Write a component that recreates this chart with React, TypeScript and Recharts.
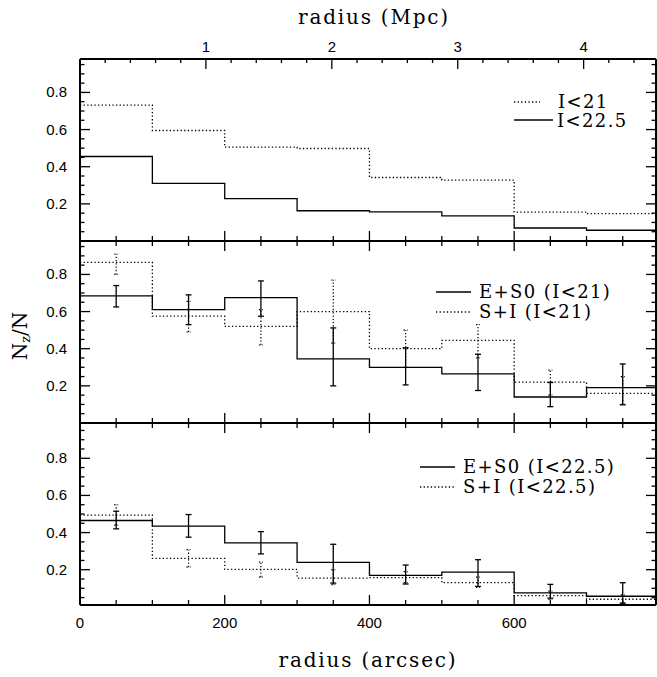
import React from 'react';
import { ComposedChart, Line, Scatter, ErrorBar, XAxis, YAxis } from 'recharts';

// ---------- data ----------
const binEdges = [0, 100, 200, 300, 400, 500, 600, 700, 800];
const binCenters = [50, 150, 250, 350, 450, 550, 650, 750];
const xMaxArcsec = 796;
const arcsecPerMpc = 174;

// top panel: N_z/N vs radius, all types
const topI21 = [0.732, 0.595, 0.505, 0.498, 0.342, 0.328, 0.156, 0.147];
const topI225 = [0.455, 0.31, 0.228, 0.163, 0.157, 0.135, 0.07, 0.058];

// middle panel: I<21
const midE = [0.685, 0.61, 0.675, 0.345, 0.3, 0.265, 0.14, 0.19];
const midELo = [0.625, 0.53, 0.575, 0.2, 0.205, 0.175, 0.088, 0.098];
const midEHi = [0.74, 0.69, 0.765, 0.512, 0.405, 0.37, 0.218, 0.318];
const midS = [0.865, 0.575, 0.52, 0.6, 0.4, 0.445, 0.22, 0.16];
const midSLo = [0.8, 0.49, 0.42, 0.43, 0.3, 0.35, 0.15, 0.1];
const midSHi = [0.91, 0.655, 0.61, 0.77, 0.5, 0.53, 0.285, 0.25];

// bottom panel: I<22.5
const botE = [0.465, 0.435, 0.345, 0.24, 0.17, 0.187, 0.075, 0.057];
const botELo = [0.42, 0.375, 0.285, 0.128, 0.123, 0.11, 0.047, 0.02];
const botEHi = [0.515, 0.497, 0.405, 0.337, 0.225, 0.254, 0.121, 0.13];
const botS = [0.494, 0.261, 0.202, 0.155, 0.157, 0.13, 0.061, 0.041];
const botSLo = [0.44, 0.214, 0.16, 0.12, 0.13, 0.105, 0.04, 0.02];
const botSHi = [0.55, 0.308, 0.241, 0.2, 0.19, 0.16, 0.085, 0.065];

// ticks
const arcsecTicks = [0, 50, 100, 150, 200, 250, 300, 350, 400, 450, 500, 550, 600, 650, 700, 750];
const arcsecLabels = [0, 200, 400, 600];
const mpcTicks = [0.2, 0.4, 0.6, 0.8, 1, 1.2, 1.4, 1.6, 1.8, 2, 2.2, 2.4, 2.6, 2.8, 3, 3.2, 3.4, 3.6, 3.8, 4, 4.2, 4.4];
const yTicks = [0.05, 0.1, 0.15, 0.2, 0.25, 0.3, 0.35, 0.4, 0.45, 0.5, 0.55, 0.6, 0.65, 0.7, 0.75, 0.8, 0.85, 0.9, 0.95];
const yLabels = [0.2, 0.4, 0.6, 0.8];

// ---------- helpers ----------
const W = 657;
const H = 677;
const SANS = 'Liberation Sans, Arial, Helvetica, sans-serif';
const SERIF = 'DejaVu Serif, serif';
const INK = '#000';
const DOT = '1.3 2.3';
const TICK_FONT = 15;

const steps = (vals: number[]) =>
  binEdges.map((x, i) => ({ x, y: vals[Math.min(i, vals.length - 1)] }));
const errs = (vals: number[], lo: number[], hi: number[]) =>
  binCenters.map((x, i) => ({ x, y: vals[i], err: [vals[i] - lo[i], hi[i] - vals[i]] }));
const mpcTicksInArcsec = mpcTicks.map((m) => m * arcsecPerMpc);

type LineSpec = { vals: number[]; dotted: boolean; lo?: number[]; hi?: number[] };

function Panel(props: {
  top: number;
  bottom: number;
  domain: [number, number];
  series: LineSpec[];
  mpcTop: boolean;
  bottomLabels: boolean;
}) {
  const { top, bottom, domain, series, mpcTop, bottomLabels } = props;

  const BottomTick = (p: any) => {
    const v = p.payload.value;
    const major = arcsecLabels.includes(v);
    return (
      <g>
        {v !== 0 && (
          <line x1={p.x} x2={p.x} y1={p.y} y2={p.y - (major ? 10 : 5)} stroke={INK} strokeWidth={1.3} />
        )}
        {bottomLabels && major && (
          <text x={p.x} y={p.y + 23} textAnchor="middle" fontFamily={SANS} fontSize={TICK_FONT} fill={INK}>
            {v}
          </text>
        )}
      </g>
    );
  };
  const TopTick = (p: any) => {
    const v = p.payload.value;
    const major = arcsecLabels.includes(v);
    if (v === 0) return <g />;
    return <line x1={p.x} x2={p.x} y1={p.y} y2={p.y + (major ? 10 : 5)} stroke={INK} strokeWidth={1.3} />;
  };
  const MpcTick = (p: any) => {
    const mpc = p.payload.value / arcsecPerMpc;
    const r = Math.round(mpc);
    const major = Math.abs(mpc - r) < 1e-6;
    return (
      <g>
        <line x1={p.x} x2={p.x} y1={p.y} y2={p.y + (major ? 10 : 4)} stroke={INK} strokeWidth={1.3} />
        {major && (
          <text x={p.x} y={p.y - 7} textAnchor="middle" fontFamily={SANS} fontSize={TICK_FONT} fill={INK}>
            {r}
          </text>
        )}
      </g>
    );
  };
  const LeftTick = (p: any) => {
    const v = p.payload.value;
    const major = yLabels.includes(v);
    return (
      <g>
        <line x1={p.x} x2={p.x + (major ? 10 : 4.5)} y1={p.y} y2={p.y} stroke={INK} strokeWidth={1.3} />
        {major && (
          <text x={p.x - 13} y={p.y + 5} textAnchor="end" fontFamily={SANS} fontSize={TICK_FONT} fill={INK}>
            {String(v)}
          </text>
        )}
      </g>
    );
  };
  const RightTick = (p: any) => {
    const v = p.payload.value;
    const major = yLabels.includes(v);
    return <line x1={p.x} x2={p.x - (major ? 10 : 4.5)} y1={p.y} y2={p.y} stroke={INK} strokeWidth={1.3} />;
  };

  const axisLine = { stroke: INK, strokeWidth: 2 };
  const common = {
    interval: 0 as const,
    tickSize: 0,
    tickMargin: 0,
    tickLine: false,
    axisLine,
    allowDataOverflow: true,
  };

  return (
    <div style={{ position: 'absolute', left: 0, top: 0 }}>
      <ComposedChart
        width={W}
        height={H}
        margin={{ top: top - 1, right: 0, bottom: H - bottom - 1, left: 79 }}
      >
        <XAxis
          {...common}
          xAxisId="b"
          dataKey="x"
          type="number"
          orientation="bottom"
          domain={[0, xMaxArcsec]}
          ticks={arcsecTicks}
          height={1}
          tick={BottomTick}
        />
        <XAxis
          {...common}
          xAxisId="t"
          dataKey="x"
          type="number"
          orientation="top"
          domain={[0, xMaxArcsec]}
          ticks={mpcTop ? mpcTicksInArcsec : arcsecTicks}
          height={1}
          tick={mpcTop ? MpcTick : TopTick}
        />
        <YAxis
          {...common}
          yAxisId="l"
          type="number"
          domain={domain}
          ticks={yTicks}
          width={1}
          tick={LeftTick}
        />
        <YAxis
          {...common}
          yAxisId="r"
          orientation="right"
          type="number"
          domain={domain}
          ticks={yTicks}
          width={1}
          tick={RightTick}
        />
        {series.map((s, i) => (
          <Line
            key={'l' + i}
            xAxisId={i === 0 ? 't' : 'b'}
            yAxisId={i === 0 ? 'r' : 'l'}
            data={steps(s.vals)}
            dataKey="y"
            type="stepAfter"
            stroke={INK}
            strokeWidth={1.3}
            strokeDasharray={s.dotted ? DOT : undefined}
            dot={false}
            activeDot={false}
            isAnimationActive={false}
          />
        ))}
        {series.map((s, i) =>
          s.lo && s.hi ? (
            <Scatter
              key={'e' + i}
              xAxisId={i === 0 ? 't' : 'b'}
              yAxisId={i === 0 ? 'r' : 'l'}
              data={errs(s.vals, s.lo, s.hi)}
              dataKey="y"
              shape={() => <g />}
              isAnimationActive={false}
            >
              <ErrorBar
                dataKey="err"
                direction="y"
                width={s.dotted ? 2 : 3}
                stroke={INK}
                strokeWidth={s.dotted ? 1.2 : 1.3}
                strokeDasharray={s.dotted ? '1.3 2' : undefined}
                isAnimationActive={false}
              />
            </Scatter>
          ) : null
        )}
      </ComposedChart>
    </div>
  );
}

function Overlay() {
  const legendText = { fontFamily: SERIF, fontSize: 18, fill: INK, letterSpacing: 1.4 } as const;
  const titleText = { fontFamily: SERIF, fontSize: 20, fill: INK, letterSpacing: 1.8 } as const;
  return (
    <svg
      width={W}
      height={H}
      style={{ position: 'absolute', left: 0, top: 0, pointerEvents: 'none' }}
    >
      <text x={374} y={24} textAnchor="middle" {...titleText}>radius (Mpc)</text>
      <text x={368} y={667} textAnchor="middle" {...titleText}>radius (arcsec)</text>
      <text x={27} y={336} textAnchor="middle" transform="rotate(-90 27 336)" fontFamily={SERIF} fontSize={20} fill={INK}>
        N
        <tspan fontSize={13} dy={3}>z</tspan>
        <tspan dy={-3}>/N</tspan>
      </text>

      {/* top legend */}
      <line x1={514} x2={540} y1={102} y2={102} stroke={INK} strokeWidth={1.3} strokeDasharray={DOT} />
      <text x={558} y={108} {...legendText}>I&lt;21</text>
      <line x1={514} x2={553} y1={120} y2={120} stroke={INK} strokeWidth={1.3} />
      <text x={557} y={127} {...legendText}>I&lt;22.5</text>

      {/* middle legend */}
      <line x1={436} x2={471} y1={292} y2={292} stroke={INK} strokeWidth={1.3} />
      <text x={479} y={298} {...legendText}>E+S0 (I&lt;21)</text>
      <line x1={436} x2={471} y1={312} y2={312} stroke={INK} strokeWidth={1.3} strokeDasharray={DOT} />
      <text x={479} y={318} {...legendText}>S+I (I&lt;21)</text>

      {/* bottom legend */}
      <line x1={420} x2={455} y1={467} y2={467} stroke={INK} strokeWidth={1.3} />
      <text x={463} y={473} {...legendText}>E+S0 (I&lt;22.5)</text>
      <line x1={420} x2={455} y1={487} y2={487} stroke={INK} strokeWidth={1.3} strokeDasharray={DOT} />
      <text x={463} y={493} {...legendText}>S+I (I&lt;22.5)</text>
    </svg>
  );
}

export default function App() {
  return (
    <div style={{ position: 'absolute', left: 0, top: 0, width: W, height: H, background: '#fff' }}>
      <Panel
        top={59}
        bottom={241}
        domain={[0, 0.98]}
        mpcTop
        bottomLabels={false}
        series={[
          { vals: topI21, dotted: true },
          { vals: topI225, dotted: false },
        ]}
      />
      <Panel
        top={241}
        bottom={423}
        domain={[0, 0.98]}
        mpcTop={false}
        bottomLabels={false}
        series={[
          { vals: midS, dotted: true, lo: midSLo, hi: midSHi },
          { vals: midE, dotted: false, lo: midELo, hi: midEHi },
        ]}
      />
      <Panel
        top={423}
        bottom={605}
        domain={[0.01, 0.99]}
        mpcTop={false}
        bottomLabels
        series={[
          { vals: botS, dotted: true, lo: botSLo, hi: botSHi },
          { vals: botE, dotted: false, lo: botELo, hi: botEHi },
        ]}
      />
      <Overlay />
    </div>
  );
}
